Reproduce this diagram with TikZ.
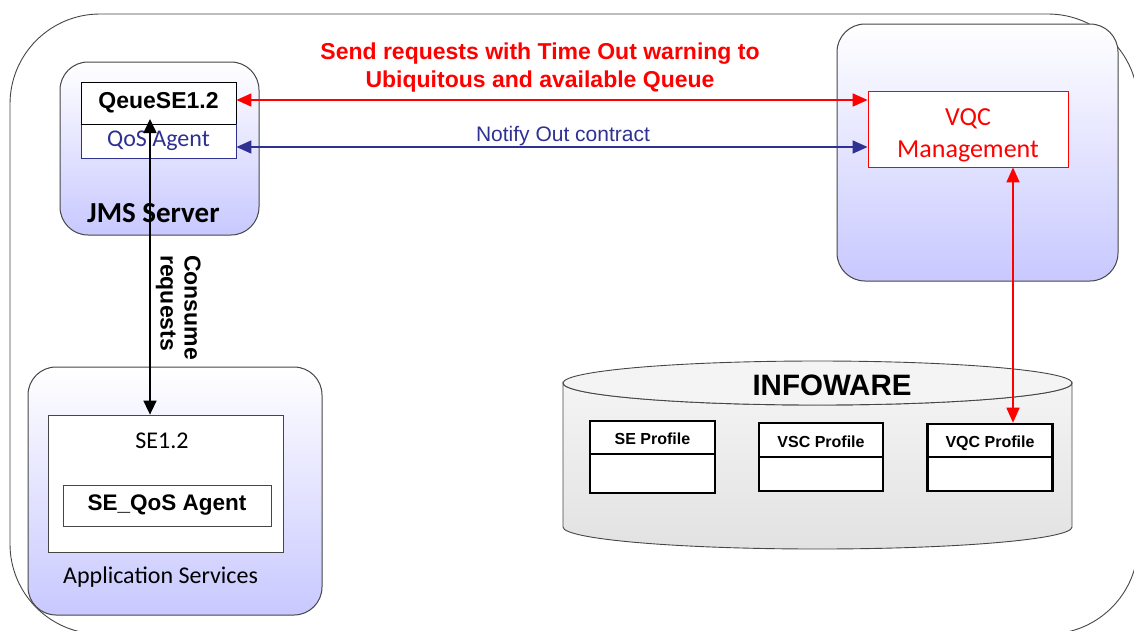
\documentclass[tikz,border=0pt]{standalone}
\usepackage{fontspec}
\setmainfont{Liberation Sans}
\newfontfamily\calfont{Carlito}
\usetikzlibrary{arrows.meta}
\definecolor{lav}{RGB}{200,200,255}
\definecolor{nblue}{RGB}{46,49,146}
\definecolor{bord}{RGB}{70,70,70}
\definecolor{cyltop}{RGB}{244,244,244}
\definecolor{cylbot}{RGB}{226,226,226}
\begin{document}
\begin{tikzpicture}[x=1pt,y=-1pt,
  panel/.style={draw=bord, line width=1pt, rounded corners=28pt, top color=white, bottom color=lav, inner sep=0pt},
  plain/.style={draw, fill=white, inner sep=0pt, line width=0.8pt},
  prof/.style={draw=black, fill=white, line width=2.6pt, inner sep=0pt},
  lbl/.style={inner sep=0pt, text depth=0pt},
  proflbl/.style={inner sep=0pt, anchor=base, font=\fontsize{16}{18}\selectfont\bfseries},
  dbl/.style={{Triangle[length=15pt,width=13pt]}-{Triangle[length=15pt,width=13pt]}, line width=1.6pt},
]
\useasboundingbox (0,0) rectangle (1134,630);
% outer frame
\draw[bord, line width=0.9pt, rounded corners=90pt] (10,14) rectangle (1138,634);

% JMS server panel
\node[panel, minimum width=199pt, minimum height=173pt] (jms) at (159.5,148.5) {};
\node[plain, draw=black, minimum width=155pt, minimum height=42pt,
  font=\fontsize{23}{26}\selectfont\bfseries] (queue) at (158.5,103) {QeueSE1.2};
\node[plain, draw=nblue, minimum width=155pt, minimum height=34pt, text=nblue,
  font=\calfont\fontsize{24}{26}\selectfont] (qos) at (158.5,141) {QoS Agent};
\draw[black, line width=0.8pt] (queue.south west) -- (queue.south east);
\node[lbl, anchor=base west, font=\calfont\fontsize{29}{30}\selectfont\bfseries] (jmslbl) at (87,222) {JMS Server};

% VQC panel
\node[panel, minimum width=281pt, minimum height=257pt] (vqcp) at (977.5,152.5) {};
\node[plain, draw=red, minimum width=200pt, minimum height=76pt] (vqcm) at (968,129) {};
\node[lbl, align=center, text=red, font=\calfont\fontsize{26}{32}\selectfont] (vqcmlbl) at (968,133) {VQC\\Management};

% Application services panel
\node[panel, minimum width=294pt, minimum height=248pt] (app) at (175,491) {};
\node[plain, draw=bord, minimum width=235pt, minimum height=137pt] (se12) at (165.5,483.5) {};
\node[lbl, anchor=base, font=\calfont\fontsize{24}{26}\selectfont] (se12lbl) at (162,448) {SE1.2};
\node[plain, draw=bord, minimum width=208pt, minimum height=41pt,
  font=\fontsize{22.5}{25}\selectfont\bfseries] (seqos) at (167,505.5) {SE\_QoS Agent};
\node[lbl, anchor=base west, font=\calfont\fontsize{24}{26}\selectfont] (applbl) at (63,583) {Application Services};

% INFOWARE cylinder
\path[draw=bord, line width=0.9pt, top color=cyltop, bottom color=cylbot]
  (563,383) -- (563,527) arc[start angle=180, end angle=0, x radius=254.5, y radius=22]
  -- (1072,383) arc[start angle=0, end angle=180, x radius=254.5, y radius=22] -- cycle;
\draw[bord, line width=0.9pt, fill=cyltop] (817.5,383) ellipse [x radius=254.5, y radius=22];
\node[lbl, anchor=base, font=\fontsize{29.5}{30}\selectfont\bfseries] (infolbl) at (832,395) {INFOWARE};

\node[prof, minimum width=125pt, minimum height=72pt] (seprof) at (652.5,457) {};
\draw[line width=1.2pt] (590,454) -- (715,454);
\node[proflbl] (seproflbl) at (652.5,444) {SE Profile};

\node[prof, minimum width=124pt, minimum height=68pt] (vscprof) at (821,457) {};
\draw[line width=1.2pt] (759,457) -- (883,457);
\node[proflbl] (vscproflbl) at (821,447) {VSC Profile};

\node[prof, minimum width=125pt, minimum height=67pt] (vqcprof) at (990,457.5) {};
\draw[line width=1.2pt] (927.5,457) -- (1052.5,457);
\node[proflbl] (vqcproflbl) at (990,447) {VQC Profile};

% connectors
\draw[dbl, red] ([yshift=3pt]queue.east) -- ([yshift=3pt]queue.east -| vqcm.west);
\draw[dbl, nblue] ([yshift=-6pt]qos.east) -- ([yshift=-6pt]qos.east -| vqcm.west);
\coordinate (qtip) at (150,119);
\draw[dbl, black, {Triangle[length=14pt,width=13pt]}-{Triangle[length=14pt,width=13pt]}] (qtip) -- (qtip |- se12.north);
\draw[dbl, red] ([xshift=45pt]vqcm.south) -- ([xshift=45pt]vqcm.south |- vqcprof.north);

% labels
\node[lbl, align=center, text=red, font=\fontsize{23}{28.5}\selectfont\bfseries] (title) at (540,65)
  {Send requests with Time Out warning to\\Ubiquitous and available Queue};
\node[lbl, anchor=base, text=nblue, font=\fontsize{21}{24}\selectfont] (notify) at (563,141) {Notify Out contract};
\node[lbl, rotate=-90, anchor=north west, align=left, font=\fontsize{23}{24}\selectfont\bfseries] (consume) at (201,255)
  {Consume\\requests};
\end{tikzpicture}
\end{document}
